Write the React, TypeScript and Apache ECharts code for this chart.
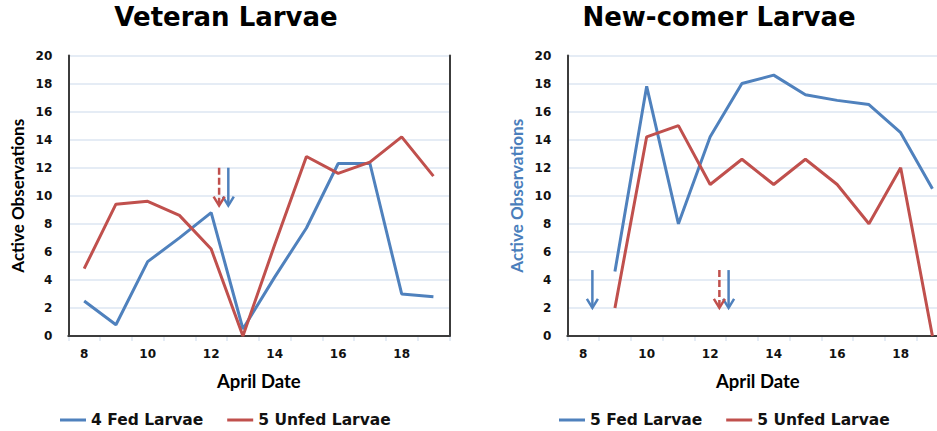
import React, { useEffect, useRef } from "react";
import * as echarts from "echarts";

const categories = ["8", "9", "10", "11", "12", "13", "14", "15", "16", "17", "18", "19"];
const veteranFed = [2.5, 0.8, 5.3, 7.0, 8.8, 0.5, 4.2, 7.7, 12.3, 12.3, 3.0, 2.8];
const veteranUnfed = [4.8, 9.4, 9.6, 8.6, 6.2, 0, 6.5, 12.8, 11.6, 12.4, 14.2, 11.4];
const newcomerFed = [null, 4.6, 17.8, 8.0, 14.2, 18.0, 18.6, 17.2, 16.8, 16.5, 14.5, 10.5];
const newcomerUnfed = [null, 2.0, 14.2, 15.0, 10.8, 12.6, 10.8, 12.6, 10.8, 8.0, 12.0, 0];

// arrows: [date position, value from, value to]
const veteranFedArrows = [[12.54, 12, 9.3]];
const veteranUnfedArrows = [[12.25, 12, 9.3]];
const newcomerFedArrows = [[8.29, 4.7, 2.0], [12.58, 4.7, 2.0]];
const newcomerUnfedArrows = [[12.29, 4.7, 2.0]];

const titles = ["Veteran Larvae", "New-comer Larvae"];
const legendLeft = ["4 Fed Larvae", "5 Unfed Larvae"];
const legendRight = ["5 Fed Larvae", "5 Unfed Larvae"];

const BLUE = "#4F81BD";
const RED = "#C0504D";
const GRIDC = "#DCE6F2";
const BORDER = "#3c3c3c";
const TICK_FONT = "DejaVu Sans";
const CAL = "Lato";

function arrowSeries(name: string, data: number[][], xi: number, yi: number, color: string, dashed: boolean) {
  return {
    type: "custom",
    name,
    xAxisIndex: xi,
    yAxisIndex: yi,
    data,
    encode: { x: 0, y: [1, 2] },
    clip: false,
    z: 5,
    renderItem: (params: any, api: any) => {
      const p1 = api.coord([api.value(0), api.value(1)]);
      const p2 = api.coord([api.value(0), api.value(2)]);
      return {
        type: "group",
        children: [
          {
            type: "line",
            shape: { x1: p1[0], y1: p1[1], x2: p2[0], y2: p2[1] - 1 },
            style: { stroke: color, lineWidth: 2.5, lineDash: dashed ? [7, 3] : null, fill: null },
          },
          {
            type: "polyline",
            shape: { points: [[p2[0] - 5.5, p2[1] - 9], [p2[0], p2[1]], [p2[0] + 5.5, p2[1] - 9]] },
            style: { stroke: color, lineWidth: 2.5, fill: "none" },
          },
        ],
      };
    },
  };
}

function gridAxes(gridIndex: number, nameColor: string) {
  const xAxes = [
    {
      type: "category",
      gridIndex,
      data: categories,
      boundaryGap: true,
      position: "bottom",
      axisLine: { show: true, lineStyle: { color: GRIDC, width: 1.5 } },
      axisTick: { show: true, interval: 0, length: 5, lineStyle: { color: GRIDC, width: 1.5 } },
      axisLabel: {
        interval: 1,
        margin: 12,
        fontFamily: TICK_FONT,
        fontWeight: "bold",
        fontSize: 12,
        color: "#111",
      },
      splitLine: { show: false },
      name: "April Date",
      nameLocation: "middle",
      nameGap: 35,
      nameTextStyle: { fontFamily: CAL, fontWeight: "bold", fontSize: 18.5, color: "#000" },
    },
    {
      type: "value",
      gridIndex,
      min: 7.5,
      max: 19.5,
      position: "top",
      z: 3,
      axisLine: { show: true, lineStyle: { color: BORDER, width: 2 } },
      axisTick: { show: false },
      axisLabel: { show: false },
      splitLine: { show: false },
    },
  ];
  const yAxes = [
    {
      type: "value",
      gridIndex,
      min: 0,
      max: 20,
      interval: 2,
      position: "left",
      z: 3,
      axisLine: { show: true, lineStyle: { color: BORDER, width: 2 } },
      axisTick: { show: false },
      axisLabel: {
        margin: 16,
        fontFamily: TICK_FONT,
        fontWeight: "bold",
        fontSize: 12,
        color: "#111",
      },
      splitLine: { show: true, lineStyle: { color: GRIDC, width: 1.5 } },
      name: "Active Observations",
      nameLocation: "middle",
      nameGap: 42,
      nameTextStyle: { fontFamily: CAL, fontWeight: "bold", fontSize: 17, color: nameColor },
    },
    {
      type: "value",
      gridIndex,
      min: 0,
      max: 20,
      position: "right",
      z: 3,
      axisLine: { show: true, lineStyle: { color: BORDER, width: 2 } },
      axisTick: { show: false },
      axisLabel: { show: false },
      splitLine: { show: false },
    },
  ];
  return { xAxes, yAxes };
}

function lineSeries(name: string, data: (number | null)[], xi: number, yi: number, color: string) {
  return {
    type: "line",
    name,
    xAxisIndex: xi,
    yAxisIndex: yi,
    data,
    showSymbol: false,
    symbol: "none",
    color,
    lineStyle: { color, width: 3 },
    z: 4,
  };
}

export default function App() {
  const ref = useRef<HTMLDivElement>(null);
  useEffect(() => {
    if (!ref.current) return;
    const chart = echarts.init(ref.current, null, { renderer: "svg" });
    const g0 = gridAxes(0, "#000");
    const g1 = gridAxes(1, "#4A7EBB");
    const legendText = { fontFamily: TICK_FONT, fontWeight: "bold", fontSize: 15.5, color: "#111" };
    chart.setOption({
      animation: false,
      backgroundColor: "#fff",
      title: [
        {
          text: titles[0],
          left: 226,
          top: 4,
          padding: 0,
          textAlign: "center",
          textStyle: { fontFamily: TICK_FONT, fontWeight: "bold", fontSize: 26, color: "#000" },
        },
        {
          text: titles[1],
          left: 719,
          top: 4,
          padding: 0,
          textAlign: "center",
          textStyle: { fontFamily: TICK_FONT, fontWeight: "bold", fontSize: 26, color: "#000" },
        },
      ],
      legend: [
        {
          data: legendLeft,
          left: 60,
          top: 412,
          padding: 0,
          icon: "rect",
          itemWidth: 26,
          itemHeight: 3,
          itemGap: 24,
          textStyle: legendText,
        },
        {
          data: legendRight,
          left: 559,
          top: 412,
          padding: 0,
          icon: "rect",
          itemWidth: 26,
          itemHeight: 3,
          itemGap: 24,
          textStyle: legendText,
        },
      ],
      grid: [
        { left: 68.3, top: 55.5, width: 381, height: 280.5, containLabel: false },
        { left: 567.3, top: 55.5, width: 381, height: 280.5, containLabel: false },
      ],
      xAxis: [...g0.xAxes, ...g1.xAxes],
      yAxis: [...g0.yAxes, ...g1.yAxes],
      series: [
        lineSeries(legendLeft[0], veteranFed, 0, 0, BLUE),
        lineSeries(legendLeft[1], veteranUnfed, 0, 0, RED),
        lineSeries(legendRight[0], newcomerFed, 2, 2, BLUE),
        lineSeries(legendRight[1], newcomerUnfed, 2, 2, RED),
        arrowSeries("vetFedArrow", veteranFedArrows, 1, 0, BLUE, false),
        arrowSeries("vetUnfedArrow", veteranUnfedArrows, 1, 0, RED, true),
        arrowSeries("newFedArrow", newcomerFedArrows, 3, 2, BLUE, false),
        arrowSeries("newUnfedArrow", newcomerUnfedArrows, 3, 2, RED, true),
      ],
    });
    return () => chart.dispose();
  }, []);
  return (
    <div
      style={{
        position: "absolute",
        left: 0,
        top: 0,
        width: 937,
        height: 431,
        overflow: "hidden",
        background: "#fff",
      }}
    >
      <div ref={ref} style={{ position: "absolute", left: 0, top: 0, width: 970, height: 431 }} />
    </div>
  );
}
